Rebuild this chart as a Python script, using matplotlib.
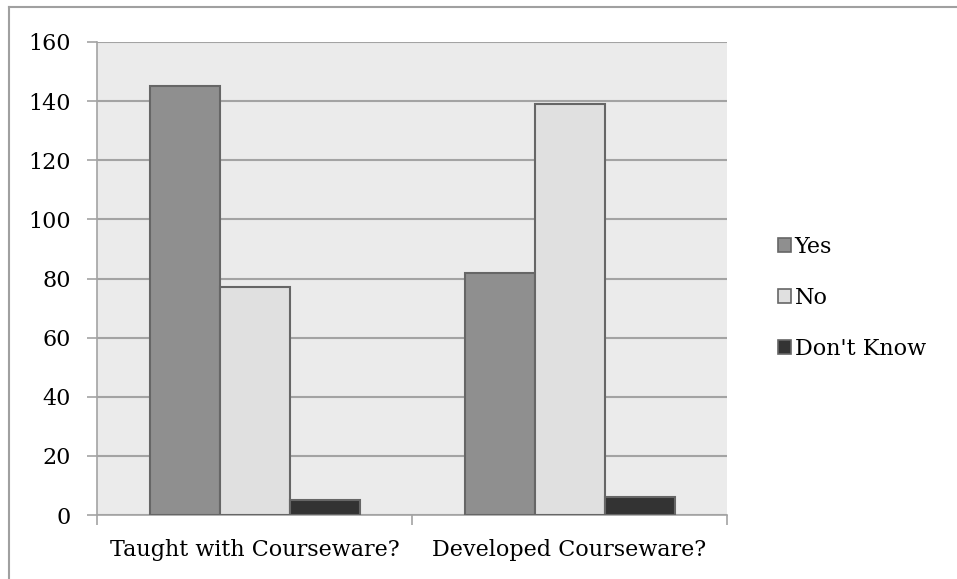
import matplotlib
matplotlib.use('Agg')
import matplotlib.pyplot as plt
import numpy as np
from matplotlib.patches import Patch
from matplotlib.lines import Line2D

categories = ['Taught with Courseware?', 'Developed Courseware?']
series_names = ['Yes', 'No', "Don't Know"]
yes_vals = [145, 82]
no_vals = [77, 139]
dk_vals = [5, 6]
y_ticks = [0, 20, 40, 60, 80, 100, 120, 140, 160]

colors = ['#8f8f8f', '#e0e0e0', '#333333']
edge = '#666666'
grid_c = '#a3a3a3'

plt.rcParams['font.family'] = ['DejaVu Serif']

W, H = 957, 579
fig = plt.figure(figsize=(W / 100, H / 100), dpi=100)

# plot area in pixels
x0, x1, y0, y1 = 97, 727, 42, 515
ax = fig.add_axes([x0 / W, 1 - y1 / H, (x1 - x0) / W, (y1 - y0) / H])
ax.set_facecolor('#ebebeb')

x = np.arange(len(categories))
w = 1 / 4.5
for i, (vals, c) in enumerate(zip([yes_vals, no_vals, dk_vals], colors)):
    ax.bar(x + (i - 1) * w, vals, width=w, color=c, edgecolor=edge,
           linewidth=1.5, zorder=3)

ax.set_xlim(-0.5, len(categories) - 0.5)
ax.set_ylim(0, 160)
ax.set_yticks(y_ticks)
ax.grid(axis='y', color=grid_c, linewidth=1.5, zorder=0)
ax.set_axisbelow(True)

for s in ['top', 'right']:
    ax.spines[s].set_visible(False)
for s in ['left', 'bottom']:
    ax.spines[s].set_color(grid_c)
    ax.spines[s].set_linewidth(1.2)

ax.set_xticks(x)
ax.set_xticklabels(categories)
ax.set_xticks(np.arange(-0.5, len(categories), 1.0), minor=True)
ax.tick_params(axis='x', which='major', length=0, pad=17, labelsize=16)
ax.tick_params(axis='x', which='minor', length=7, color=grid_c, width=1.2)
ax.tick_params(axis='y', length=7, color=grid_c, width=1.2, pad=12, labelsize=16)

handles = [Patch(facecolor=c, edgecolor=edge, linewidth=1.2) for c in colors]
fig.legend(handles, series_names, loc='upper left',
           bbox_to_anchor=(758 / W, 1 - 216 / H), frameon=False,
           fontsize=16, handlelength=0.6, handleheight=0.6,
           handletextpad=0.15, labelspacing=1.3)

# outer frame lines
fig.add_artist(Line2D([9 / W, 1], [1 - 7 / H, 1 - 7 / H], color='#a0a0a0', linewidth=1.5))
fig.add_artist(Line2D([9 / W, 9 / W], [0, 1 - 7 / H], color='#a0a0a0', linewidth=1.5))

fig.savefig('out.png', dpi=100)
